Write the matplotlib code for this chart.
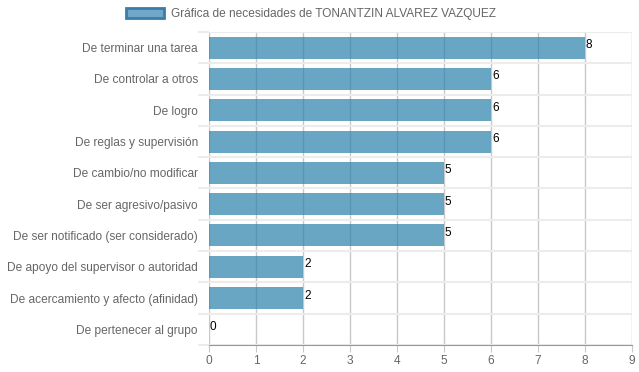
import numpy as np
import matplotlib.pyplot as plt
from matplotlib.patches import Patch

# data
categories = ["De terminar una tarea", "De controlar a otros", "De logro",
              "De reglas y supervisión", "De cambio/no modificar",
              "De ser agresivo/pasivo", "De ser notificado (ser considerado)",
              "De apoyo del supervisor o autoridad",
              "De acercamiento y afecto (afinidad)", "De pertenecer al grupo"]
values = [8, 6, 6, 6, 5, 5, 5, 2, 2, 0]
xticks = list(range(0, 10))
legend_label = "Gráfica de necesidades de TONANTZIN ALVAREZ VAZQUEZ"

plt.rcParams['font.family'] = ['Liberation Sans', 'DejaVu Sans']

fig = plt.figure(figsize=(6.39, 3.72), dpi=100)
ax = fig.add_axes([209/639, 1-345/372, (632-209)/639, (345-32)/372])

n = len(categories)
y = np.arange(n)
bar_color = (42/255, 128/255, 172/255, 0.7)
ax.barh(y, values, height=0.7, color=bar_color, zorder=2)

# value labels
for yi, v in zip(y, values):
    ax.text(v + 0.02, yi - 0.08, str(v), fontsize=8.5, color='black',
            va='center', ha='left', zorder=3)

ax.set_xlim(0, 9)
ax.set_ylim(n - 0.5, -0.5)
ax.set_xticks(xticks)
ax.set_yticks(y)
ax.set_yticklabels(categories)
ax.set_yticks(np.arange(-0.5, n, 1), minor=True)

ax.grid(axis='x', color='#c8c8c8', linewidth=1, zorder=1)
ax.grid(axis='y', which='minor', color='#ececec', linewidth=1.5, zorder=1)
ax.tick_params(axis='y', which='major', length=0, pad=8, labelsize=8.6, labelcolor='#666666')
ax.tick_params(axis='y', which='minor', length=8, color='#ececec', width=1.5)
ax.tick_params(axis='x', length=5, color='#c8c8c8', labelsize=8.6, labelcolor='#666666', pad=2)

for s in ['top', 'right', 'left']:
    ax.spines[s].set_visible(False)
ax.spines['bottom'].set_color('#999999')
ax.set_axisbelow(True)

handle = Patch(facecolor='#6fa8c8', edgecolor='#3b7ca8', linewidth=2)
fig.legend([handle], [legend_label], loc='center left', bbox_to_anchor=(115/639, 1-14/372),
           frameon=False, fontsize=8.6, labelcolor='#666666',
           handlelength=3.2, handleheight=0.9, handletextpad=0.6)

fig.savefig('out.png', dpi=100)
